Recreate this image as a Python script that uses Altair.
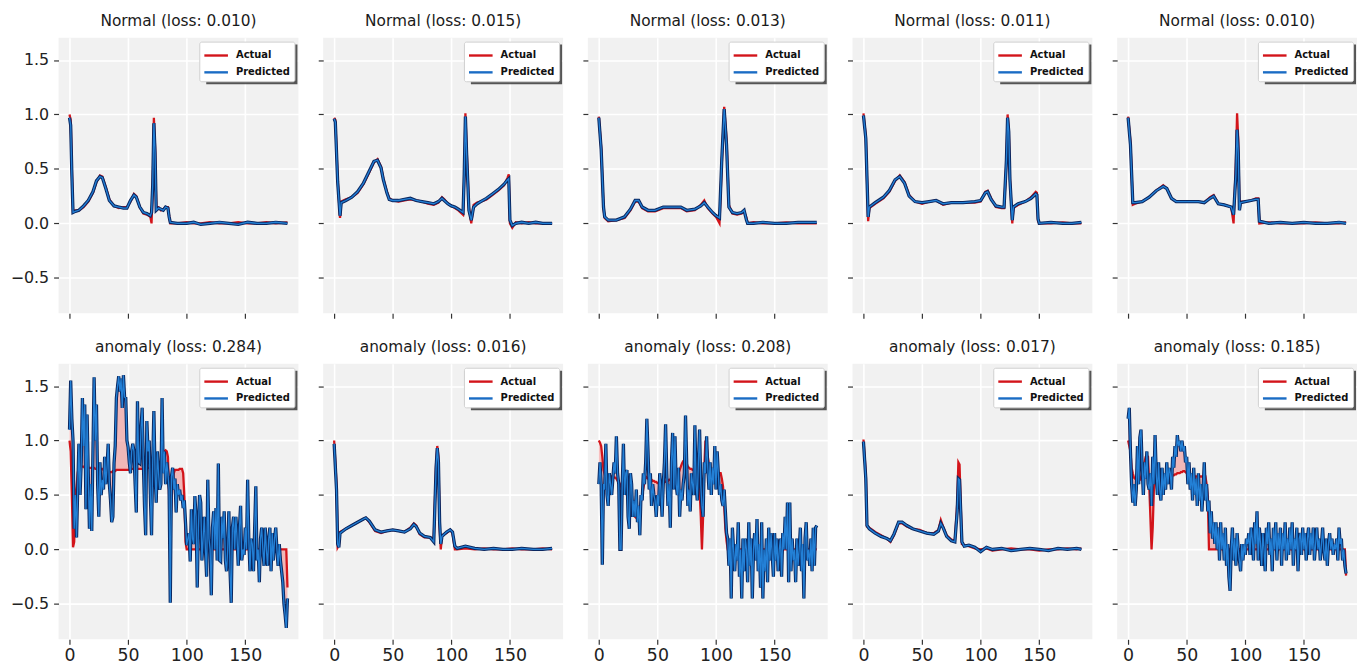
import altair as alt
import pandas as pd

# ---------------- data ----------------
TITLES_TOP = ["Normal (loss: 0.010)", "Normal (loss: 0.015)", "Normal (loss: 0.013)",
              "Normal (loss: 0.011)", "Normal (loss: 0.010)"]
TITLES_BOTTOM = ["anomaly (loss: 0.284)", "anomaly (loss: 0.016)", "anomaly (loss: 0.208)",
                 "anomaly (loss: 0.017)", "anomaly (loss: 0.185)"]
SERIES = ["Actual", "Predicted"]
X_TICKS = [0, 50, 100, 150]
Y_TICKS = [-0.5, 0.0, 0.5, 1.0, 1.5]

N1_X = [0, 1, 2, 3, 5, 8, 12, 16, 20, 23, 26, 28, 31, 34, 38, 42, 46, 49, 52, 55,
        57, 60, 63, 66, 69, 70, 71, 72, 73, 74, 76, 78, 80, 82, 84, 85, 86, 92, 100, 106,
        112, 120, 128, 136, 144, 152, 160, 168, 176, 186]
N1_ACT = [1.00, 0.95, 0.50, 0.11, 0.12, 0.12, 0.15, 0.20, 0.28, 0.38, 0.44, 0.43, 0.33, 0.22, 0.16, 0.14, 0.15, 0.15, 0.20, 0.27,
          0.25, 0.15, 0.09, 0.08, 0.06, 0.00, 0.30, 0.97, 0.70, 0.15, 0.15, 0.12, 0.13, 0.15, 0.15, 0.07, 0.00, 0.00, 0.01, 0.00,
          0.00, 0.01, 0.00, 0.00, 0.01, 0.00, 0.00, 0.01, 0.00, 0.01]
N1_PRED = [0.97, 0.90, 0.45, 0.10, 0.11, 0.12, 0.16, 0.21, 0.29, 0.39, 0.43, 0.42, 0.32, 0.21, 0.16, 0.15, 0.14, 0.14, 0.21, 0.26,
           0.24, 0.15, 0.10, 0.09, 0.07, 0.10, 0.35, 0.92, 0.65, 0.12, 0.14, 0.13, 0.12, 0.15, 0.14, 0.06, 0.01, 0.00, 0.00, 0.01,
           -0.01, 0.00, 0.01, 0.00, -0.01, 0.01, 0.00, 0.00, 0.01, 0.00]

N2_X = [0, 1, 3, 5, 6, 10, 15, 20, 25, 30, 34, 37, 40, 42, 45, 47, 50, 55, 60, 65,
        70, 75, 80, 85, 89, 92, 94, 97, 100, 103, 106, 110, 111, 112, 113, 115, 117, 119, 122, 125,
        130, 135, 140, 145, 148, 149, 150, 152, 155, 160, 166, 172, 178, 186]
N2_ACT = [0.97, 0.95, 0.40, 0.05, 0.20, 0.22, 0.24, 0.28, 0.36, 0.47, 0.56, 0.59, 0.52, 0.41, 0.29, 0.23, 0.21, 0.20, 0.21, 0.22,
          0.21, 0.20, 0.18, 0.17, 0.19, 0.24, 0.22, 0.18, 0.16, 0.14, 0.12, 0.08, 0.40, 1.01, 0.70, 0.15, 0.00, 0.17, 0.19, 0.20,
          0.22, 0.26, 0.30, 0.35, 0.42, 0.45, 0.00, -0.04, 0.01, 0.00, 0.01, 0.00, 0.00, 0.00]
N2_PRED = [0.96, 0.93, 0.38, 0.07, 0.19, 0.21, 0.24, 0.29, 0.37, 0.48, 0.57, 0.58, 0.51, 0.40, 0.28, 0.22, 0.21, 0.21, 0.22, 0.23,
           0.21, 0.20, 0.19, 0.18, 0.20, 0.23, 0.21, 0.18, 0.16, 0.15, 0.13, 0.10, 0.45, 0.98, 0.65, 0.12, 0.03, 0.15, 0.18, 0.20,
           0.23, 0.27, 0.31, 0.36, 0.40, 0.41, 0.03, -0.02, 0.00, 0.01, 0.00, 0.01, 0.00, 0.00]

N3_X = [0, 2, 4, 5, 8, 15, 22, 27, 31, 34, 37, 42, 48, 55, 62, 70, 75, 82, 87, 90,
        93, 97, 100, 103, 105, 107, 109, 111, 114, 118, 122, 124, 126, 127, 132, 140, 150, 160, 170, 186]
N3_ACT = [0.98, 0.70, 0.14, 0.05, 0.02, 0.03, 0.05, 0.12, 0.20, 0.20, 0.14, 0.11, 0.11, 0.14, 0.14, 0.14, 0.11, 0.12, 0.17, 0.21,
          0.14, 0.09, 0.06, 0.00, 0.56, 1.07, 0.77, 0.17, 0.09, 0.08, 0.09, 0.11, 0.05, 0.00, 0.01, 0.00, 0.00, 0.01, 0.00, 0.00]
N3_PRED = [0.97, 0.68, 0.15, 0.06, 0.03, 0.03, 0.06, 0.13, 0.21, 0.21, 0.15, 0.12, 0.12, 0.15, 0.15, 0.15, 0.12, 0.13, 0.16, 0.19,
           0.15, 0.10, 0.07, 0.05, 0.60, 1.05, 0.72, 0.15, 0.10, 0.09, 0.10, 0.12, 0.03, 0.00, 0.00, 0.01, 0.00, 0.00, 0.01, 0.01]

N4_X = [0, 2, 4, 5, 10, 17, 22, 27, 31, 35, 39, 44, 50, 56, 62, 68, 75, 85, 95, 100,
        104, 106, 109, 113, 118, 120, 122, 123, 124, 125, 127, 128, 132, 138, 143, 147, 148, 149, 150, 160,
        170, 178, 186]
N4_ACT = [1.01, 0.80, 0.02, 0.14, 0.18, 0.23, 0.29, 0.39, 0.44, 0.38, 0.26, 0.20, 0.18, 0.20, 0.21, 0.17, 0.19, 0.19, 0.19, 0.20,
          0.29, 0.30, 0.23, 0.15, 0.14, 0.14, 0.56, 1.00, 0.86, 0.41, 0.00, 0.14, 0.17, 0.20, 0.24, 0.29, 0.28, 0.02, 0.00, 0.00,
          0.01, 0.00, 0.00]
N4_PRED = [0.99, 0.78, 0.06, 0.15, 0.19, 0.24, 0.30, 0.40, 0.43, 0.37, 0.25, 0.20, 0.19, 0.20, 0.21, 0.18, 0.19, 0.19, 0.20, 0.21,
           0.28, 0.29, 0.22, 0.16, 0.15, 0.15, 0.58, 0.97, 0.84, 0.40, 0.03, 0.15, 0.18, 0.20, 0.23, 0.27, 0.26, 0.04, 0.00, 0.01,
           0.00, 0.00, 0.01]

N5_X = [0, 2, 4, 6, 12, 18, 24, 30, 33, 37, 41, 50, 60, 65, 70, 73, 77, 82, 88, 90,
        92, 93, 94, 95, 96, 100, 105, 109, 111, 112, 120, 130, 140, 150, 160, 170, 180, 186]
N5_ACT = [0.98, 0.75, 0.17, 0.18, 0.20, 0.24, 0.30, 0.35, 0.32, 0.23, 0.20, 0.20, 0.20, 0.19, 0.24, 0.26, 0.18, 0.17, 0.15, 0.00,
          0.56, 1.01, 0.77, 0.14, 0.20, 0.20, 0.21, 0.23, 0.23, 0.00, 0.01, 0.00, 0.00, 0.00, 0.01, 0.00, 0.00, 0.01]
N5_PRED = [0.97, 0.72, 0.19, 0.19, 0.20, 0.24, 0.30, 0.34, 0.32, 0.23, 0.20, 0.20, 0.20, 0.19, 0.23, 0.25, 0.18, 0.17, 0.15, 0.08,
           0.45, 0.86, 0.65, 0.12, 0.19, 0.20, 0.21, 0.22, 0.22, 0.02, 0.00, 0.01, 0.00, 0.01, 0.00, 0.00, 0.01, 0.00]

FULL_X = list(range(187))

A1_ACT = [1.00, 0.90, 0.50, 0.02, 0.07, 0.49, 0.58, 0.70, 0.76, 0.76,
          0.76, 0.76, 0.76, 0.75, 0.75, 0.75, 0.75, 0.75, 0.75, 0.75,
          0.75, 0.75, 0.74, 0.74, 0.74, 0.74, 0.74, 0.74, 0.74, 0.73,
          0.73, 0.72, 0.72, 0.72, 0.71, 0.71, 0.71, 0.72, 0.72, 0.72,
          0.73, 0.73, 0.73, 0.73, 0.73, 0.73, 0.73, 0.73, 0.73, 0.73,
          0.73, 0.73, 0.74, 0.74, 0.74, 0.74, 0.74, 0.74, 0.74, 0.74,
          0.74, 0.74, 0.74, 0.75, 0.75, 0.75, 0.75, 0.75, 0.75, 0.75,
          0.75, 0.75, 0.76, 0.76, 0.76, 0.76, 0.77, 0.77, 0.77, 0.80,
          0.85, 0.90, 0.91, 0.90, 0.85, 0.49, 0.25, 0.40, 0.64, 0.70,
          0.73, 0.73, 0.73, 0.73, 0.74, 0.74, 0.74, 0.70, 0.49, 0.07,
          0.00, 0.00, 0.00, 0.00, 0.00, 0.00, 0.00, 0.00, 0.00, 0.00,
          0.00, 0.00, 0.00, 0.00, 0.00, 0.00, 0.00, 0.00, 0.00, 0.00,
          0.00, 0.00, 0.00, 0.00, 0.00, 0.00, 0.00, 0.00, 0.00, 0.00,
          0.00, 0.00, 0.00, 0.00, 0.00, 0.00, 0.00, 0.00, 0.00, 0.00,
          0.00, 0.00, 0.00, 0.00, 0.00, 0.00, 0.00, 0.00, 0.00, 0.00,
          0.00, 0.00, 0.00, 0.00, 0.00, 0.00, 0.00, 0.00, 0.00, 0.00,
          0.00, 0.00, 0.00, 0.00, 0.00, 0.00, 0.00, 0.00, 0.00, 0.00,
          0.00, 0.00, 0.00, 0.00, 0.00, 0.00, 0.00, 0.00, 0.00, 0.00,
          0.00, 0.00, 0.00, 0.00, 0.00, 0.00, -0.35]
A1_PRED = [1.10, 1.55, 1.20, 1.00, 0.19, 0.50, 0.11, 0.55, 0.97, 0.50,
           0.80, 1.39, 0.95, 1.33, 0.37, 1.24, 0.70, 0.19, 0.60, 0.17,
           0.90, 1.58, 1.00, 1.33, 0.60, 0.30, 0.80, 0.50, 0.64, 0.55,
           0.85, 0.60, 0.75, 0.97, 0.60, 0.45, 0.25, 0.30, 0.79, 0.95,
           1.39, 1.50, 1.59, 1.45, 1.57, 1.30, 1.60, 1.40, 1.39, 1.00,
           0.94, 0.80, 0.70, 0.90, 0.97, 0.90, 0.60, 0.34, 1.36, 0.80,
           0.79, 1.10, 1.30, 0.80, 0.40, 0.13, 1.18, 0.90, 1.00, 0.50,
           0.13, 0.80, 1.27, 0.70, 0.43, 0.90, 0.70, 0.55, 0.60, 1.39,
           0.70, 0.90, 0.60, 0.80, 0.70, 0.55, -0.49, 0.67, 0.75, 0.55,
           0.65, 0.34, 0.60, 0.50, 0.55, 0.45, 0.50, 0.38, 0.45, 0.25,
           0.04, 0.10, 0.15, -0.11, 0.37, 0.10, 0.05, 0.49, 0.30, -0.35,
           0.20, 0.50, 0.43, -0.10, 0.10, 0.30, 0.00, -0.25, 0.64, 0.10,
           0.00, -0.42, 0.20, 0.35, 0.00, 0.38, -0.10, 0.79, -0.10, -0.11,
           0.30, 0.10, 0.35, -0.10, -0.20, 0.00, 0.35, -0.20, -0.49, 0.20,
           0.30, 0.00, 0.30, 0.10, -0.15, 0.20, 0.40, -0.10, 0.00, -0.05,
           0.20, 0.00, 0.64, 0.10, -0.20, 0.10, 0.05, -0.20, 0.20, 0.58,
           -0.10, 0.00, -0.30, 0.10, 0.20, 0.00, -0.15, 0.20, 0.00, -0.15,
           0.10, 0.20, -0.20, 0.15, -0.10, 0.10, 0.20, 0.00, -0.15, 0.05,
           -0.10, -0.20, -0.30, -0.50, -0.60, -0.72, -0.45]

A2_X = [0, 2, 3, 4, 5, 10, 15, 20, 25, 27, 30, 35, 40, 45, 50, 55, 60, 65, 68, 70,
        73, 77, 82, 85, 87, 88, 89, 90, 91, 92, 96, 99, 101, 103, 105, 112, 120, 128, 136, 144,
        152, 160, 170, 178, 186]
A2_ACT = [1.00, 0.60, 0.02, 0.04, 0.16, 0.19, 0.22, 0.25, 0.28, 0.29, 0.25, 0.17, 0.15, 0.17, 0.18, 0.17, 0.16, 0.20, 0.24, 0.22,
          0.14, 0.11, 0.11, 0.10, 0.79, 0.95, 0.85, 0.20, 0.00, 0.13, 0.15, 0.18, 0.15, 0.00, 0.00, 0.01, 0.00, 0.01, 0.00, 0.00,
          0.01, 0.00, 0.00, 0.01, 0.00]
A2_PRED = [0.97, 0.55, 0.05, 0.02, 0.15, 0.19, 0.22, 0.25, 0.28, 0.29, 0.26, 0.18, 0.16, 0.17, 0.18, 0.17, 0.16, 0.19, 0.23, 0.21,
           0.15, 0.12, 0.11, 0.07, 0.75, 0.93, 0.80, 0.25, 0.05, 0.12, 0.16, 0.18, 0.16, 0.03, 0.01, 0.03, 0.01, 0.00, 0.01, 0.00,
           0.00, 0.01, 0.00, 0.00, 0.01]

A3_ACT = [1.00, 0.98, 0.95, 0.85, 0.73, 0.69, 0.65, 0.66, 0.67, 0.67,
          0.67, 0.67, 0.67, 0.66, 0.66, 0.65, 0.63, 0.62, 0.60, 0.58,
          0.55, 0.54, 0.52, 0.51, 0.50, 0.47, 0.44, 0.40, 0.36, 0.33,
          0.31, 0.30, 0.29, 0.28, 0.33, 0.38, 0.44, 0.50, 0.56, 0.62,
          0.67, 0.66, 0.65, 0.65, 0.64, 0.64, 0.63, 0.63, 0.62, 0.62,
          0.61, 0.61, 0.61, 0.61, 0.61, 0.61, 0.62, 0.62, 0.63, 0.63,
          0.64, 0.64, 0.64, 0.64, 0.64, 0.64, 0.66, 0.68, 0.70, 0.73,
          0.76, 0.79, 0.81, 0.82, 0.81, 0.79, 0.76, 0.75, 0.74, 0.74,
          0.73, 0.73, 0.72, 0.72, 0.71, 0.70, 0.55, 0.31, 0.00, 0.30,
          0.75, 1.00, 0.95, 0.85, 0.78, 0.72, 0.71, 0.70, 0.70, 0.70,
          0.70, 0.70, 0.70, 0.70, 0.70, 0.65, 0.58, 0.40, 0.19, 0.08,
          0.00, 0.00, 0.00, 0.00, 0.00, 0.00, 0.00, 0.00, 0.00, 0.00,
          0.00, 0.00, 0.00, 0.00, 0.00, 0.00, 0.00, 0.00, 0.00, 0.00,
          0.00, 0.00, 0.00, 0.00, 0.00, 0.00, 0.00, 0.00, 0.00, 0.00,
          0.00, 0.00, 0.00, 0.00, 0.00, 0.00, 0.00, 0.00, 0.00, 0.00,
          0.00, 0.00, 0.00, 0.00, 0.00, 0.00, 0.00, 0.00, 0.00, 0.00,
          0.00, 0.00, 0.00, 0.00, 0.00, 0.00, 0.00, 0.00, 0.00, 0.00,
          0.00, 0.00, 0.00, 0.00, 0.00, 0.00, 0.00, 0.00, 0.00, 0.00,
          0.00, 0.00, 0.00, 0.00, 0.00, 0.00, 0.00]
A3_PRED = [0.60, 0.80, 0.60, -0.14, 0.60, 0.55, 0.97, 0.50, 0.40, 0.70,
           0.60, 0.50, 0.65, 0.80, 0.70, 1.04, 0.70, 0.60, 0.00, 0.00,
           0.60, 0.97, 0.50, 0.70, 0.73, 0.30, 0.19, 0.70, 0.60, 0.30,
           0.45, 0.30, 0.55, 0.25, 0.40, 0.13, 0.50, 0.45, 0.70, 0.60,
           0.80, 1.20, 0.90, 0.55, 0.70, 0.40, 0.60, 0.50, 0.45, 0.30,
           0.50, 0.40, 0.70, 0.55, 0.30, 0.60, 0.80, 1.15, 0.70, 0.40,
           0.60, 0.20, 0.80, 1.07, 0.55, 1.04, 0.60, 0.50, 0.75, 0.30,
           0.55, 0.45, 0.60, 0.70, 1.23, 0.80, 0.40, 0.55, 0.35, 0.70,
           0.60, 0.50, 1.14, 0.60, 0.45, 0.80, 1.10, 0.60, 0.40, 0.30,
           0.80, 0.70, 1.04, 0.75, 0.55, 0.80, 0.50, 0.75, 0.60, 0.95,
           0.55, 0.90, 0.70, 0.50, 0.60, 0.45, 0.40, 0.55, 0.35, 0.15,
           0.10, -0.15, 0.10, -0.45, 0.20, 0.00, -0.20, 0.05, -0.10, 0.25,
           -0.25, 0.00, -0.45, 0.10, -0.20, 0.10, 0.00, -0.30, 0.25, -0.15,
           0.10, -0.45, 0.00, 0.15, -0.10, 0.28, -0.20, 0.05, -0.35, 0.25,
           -0.45, 0.00, -0.20, 0.10, -0.30, 0.20, -0.10, 0.15, -0.05, -0.25,
           0.15, -0.10, 0.10, -0.20, 0.00, 0.10, -0.25, 0.15, 0.00, 0.30,
           0.00, 0.43, -0.30, 0.43, -0.20, 0.10, -0.10, 0.00, -0.30, 0.10,
           -0.15, 0.00, 0.20, -0.20, 0.05, -0.45, 0.10, 0.25, -0.10, 0.00,
           -0.15, 0.10, -0.20, 0.20, -0.15, 0.20, 0.22]

A4_X = [0, 2, 3, 5, 10, 15, 20, 23, 26, 30, 33, 37, 42, 48, 54, 60, 64, 66, 68, 71,
        75, 78, 80, 81, 82, 83, 84, 86, 90, 95, 100, 105, 110, 118, 126, 134, 142, 150, 158, 166,
        174, 182, 186]
A4_ACT = [1.01, 0.70, 0.21, 0.20, 0.16, 0.13, 0.10, 0.07, 0.13, 0.24, 0.24, 0.21, 0.19, 0.18, 0.15, 0.15, 0.18, 0.27, 0.21, 0.13,
          0.09, 0.08, 0.42, 0.80, 0.78, 0.42, 0.05, 0.04, 0.03, 0.01, 0.00, 0.01, -0.01, 0.00, 0.01, 0.00, 0.00, -0.01, 0.00, 0.00,
          0.01, 0.00, 0.01]
A4_PRED = [0.99, 0.65, 0.22, 0.19, 0.15, 0.12, 0.10, 0.08, 0.14, 0.25, 0.25, 0.22, 0.19, 0.17, 0.15, 0.14, 0.17, 0.24, 0.20, 0.12,
           0.08, 0.07, 0.35, 0.65, 0.64, 0.35, 0.07, 0.03, 0.04, 0.02, -0.02, 0.02, 0.00, 0.01, -0.01, 0.00, 0.01, 0.00, -0.01, 0.01,
           0.00, 0.01, 0.00]

A5_ACT = [1.00, 0.95, 0.90, 0.75, 0.70, 0.66, 0.65, 0.64, 0.64, 0.64,
          0.64, 0.66, 0.70, 0.73, 0.80, 0.85, 0.86, 0.85, 0.60, 0.30,
          0.00, 0.20, 0.55, 0.62, 0.64, 0.64, 0.65, 0.65, 0.65, 0.65,
          0.65, 0.65, 0.65, 0.66, 0.66, 0.66, 0.67, 0.67, 0.68, 0.68,
          0.69, 0.69, 0.70, 0.70, 0.70, 0.71, 0.71, 0.72, 0.72, 0.71,
          0.70, 0.70, 0.69, 0.69, 0.68, 0.68, 0.67, 0.67, 0.67, 0.67,
          0.67, 0.67, 0.67, 0.67, 0.67, 0.67, 0.67, 0.60, 0.49, 0.00,
          0.00, 0.00, 0.00, 0.00, 0.00, 0.00, 0.00, 0.00, 0.00, 0.00,
          0.00, 0.00, 0.00, 0.00, 0.00, 0.00, 0.00, 0.00, 0.00, 0.00,
          0.00, 0.00, 0.00, 0.00, 0.00, 0.00, 0.00, 0.00, 0.00, 0.00,
          0.00, 0.00, 0.00, 0.00, 0.00, 0.00, 0.00, 0.00, 0.00, 0.00,
          0.00, 0.00, 0.00, 0.00, 0.00, 0.00, 0.00, 0.00, 0.00, 0.00,
          0.00, 0.00, 0.00, 0.00, 0.00, 0.00, 0.00, 0.00, 0.00, 0.00,
          0.00, 0.00, 0.00, 0.00, 0.00, 0.00, 0.00, 0.00, 0.00, 0.00,
          0.00, 0.00, 0.00, 0.00, 0.00, 0.00, 0.00, 0.00, 0.00, 0.00,
          0.00, 0.00, 0.00, 0.00, 0.00, 0.00, 0.00, 0.00, 0.00, 0.00,
          0.00, 0.00, 0.00, 0.00, 0.00, 0.00, 0.00, 0.00, 0.00, 0.00,
          0.00, 0.00, 0.00, 0.00, 0.00, 0.00, 0.00, 0.00, 0.00, 0.00,
          0.00, 0.00, 0.00, 0.00, 0.00, 0.00, -0.24]
A5_PRED = [1.20, 1.30, 0.90, 0.60, 0.43, 0.60, 0.40, 0.55, 0.95, 0.60,
           1.03, 1.10, 0.75, 0.50, 0.80, 0.65, 0.90, 0.60, 0.55, 0.70,
           0.40, 0.85, 0.60, 1.05, 0.70, 0.50, 0.80, 0.55, 0.45, 0.75,
           0.50, 0.70, 0.55, 0.80, 0.60, 0.75, 0.70, 0.55, 0.85, 0.75,
           0.95, 0.85, 1.05, 0.95, 1.00, 0.90, 1.00, 0.90, 0.95, 0.80,
           0.85, 0.60, 0.80, 0.55, 0.70, 0.45, 0.75, 0.50, 0.65, 0.40,
           0.70, 0.45, 0.60, 0.35, 0.55, 0.80, 0.45, 0.60, 0.35, 0.45,
           0.15, 0.35, 0.10, 0.25, 0.05, 0.25, 0.00, 0.20, -0.10, 0.25,
           0.00, 0.15, -0.10, 0.20, -0.15, 0.05, -0.25, -0.38, 0.00, 0.20,
           -0.10, 0.10, -0.15, 0.15, 0.00, -0.10, -0.20, 0.05, -0.10, 0.05,
           -0.05, 0.10, 0.05, 0.15, -0.05, 0.20, 0.10, -0.10, 0.25, 0.05,
           0.35, -0.10, 0.20, 0.05, -0.15, 0.15, 0.00, -0.20, 0.20, 0.05,
           0.25, -0.05, 0.10, -0.20, 0.20, 0.00, 0.25, -0.10, 0.15, 0.00,
           0.20, -0.15, 0.15, 0.00, 0.25, -0.10, 0.10, -0.05, 0.20, 0.00,
           0.25, -0.15, 0.10, 0.00, 0.20, -0.20, 0.10, 0.15, -0.05, 0.20,
           0.00, 0.15, -0.10, 0.10, 0.20, -0.05, 0.15, 0.00, 0.20, -0.10,
           0.05, 0.20, 0.00, 0.10, -0.10, 0.05, 0.20, 0.00, -0.10, 0.10,
           -0.15, 0.05, 0.15, 0.00, 0.10, -0.05, 0.05, 0.00, 0.10, -0.10,
           0.20, 0.05, 0.10, -0.10, 0.00, -0.15, -0.22]

# ---------------- styling ----------------
RED = "#d3141a"
BLUE = "#1a6cc4"
CORE = "#2380d6"
NAVY = "#0a2760"
FILL = "#f08080"
BG = "#f1f1f1"
W, H = 242, 278
X_DOMAIN = [-9.35, 195.35]
Y_DOMAIN = [-0.825, 1.705]
FONT = "DejaVu Sans"


def panel(xs, act, pred, title, first_col, bottom_row):
    df = pd.DataFrame({"x": xs, "actual": act, "predicted": pred})
    xs_ = alt.Scale(domain=X_DOMAIN, nice=False, zero=False)
    ys_ = alt.Scale(domain=Y_DOMAIN, nice=False, zero=False)
    xax = alt.Axis(values=X_TICKS, labels=bottom_row, title=None, format="d",
                   labelFontSize=17.5, labelPadding=2)
    yax = alt.Axis(values=Y_TICKS, labels=first_col, title=None, format=".1f",
                   labelFontSize=16, labelPadding=5)
    cscale = alt.Scale(domain=SERIES, range=[RED, BLUE])
    leg = alt.Legend(title=None, orient="top-right", offset=4, zindex=1)
    base = alt.Chart(df)
    X = alt.X("x:Q", scale=xs_, axis=xax)
    area = base.mark_area(color=FILL, opacity=0.5).encode(
        x=X, y=alt.Y("actual:Q", scale=ys_, axis=yax), y2="predicted:Q")
    a_line = base.transform_calculate(series="'Actual'").mark_line(strokeWidth=2.3).encode(
        x="x:Q", y="actual:Q", color=alt.Color("series:N", scale=cscale, legend=leg))
    p_out = base.mark_line(color=NAVY, strokeWidth=3.3).encode(x="x:Q", y="predicted:Q")
    p_core = base.mark_line(color=CORE, strokeWidth=1.3).encode(x="x:Q", y="predicted:Q")
    p_key = base.transform_calculate(series="'Predicted'").mark_line(strokeWidth=0, opacity=0).encode(
        x="x:Q", y="predicted:Q", color=alt.Color("series:N", scale=cscale, legend=leg))
    shadow = alt.Chart(pd.DataFrame({"s": [0]})).mark_rect(color="#3a3a3a", opacity=0.85).encode(
        x=alt.value(W - 93), x2=alt.value(W - 1), y=alt.value(7), y2=alt.value(47))
    return alt.layer(area, a_line, p_out, p_core, p_key, shadow).properties(
        width=W, height=H, title=alt.Title(title, frame="group"))


top_data = [(N1_X, N1_ACT, N1_PRED), (N2_X, N2_ACT, N2_PRED), (N3_X, N3_ACT, N3_PRED),
            (N4_X, N4_ACT, N4_PRED), (N5_X, N5_ACT, N5_PRED)]
bot_data = [(FULL_X, A1_ACT, A1_PRED), (A2_X, A2_ACT, A2_PRED), (FULL_X, A3_ACT, A3_PRED),
            (A4_X, A4_ACT, A4_PRED), (FULL_X, A5_ACT, A5_PRED)]

top = alt.hconcat(*[panel(d[0], d[1], d[2], t, i == 0, False)
                    for i, (d, t) in enumerate(zip(top_data, TITLES_TOP))], spacing=19)
bot = alt.hconcat(*[panel(d[0], d[1], d[2], t, i == 0, True)
                    for i, (d, t) in enumerate(zip(bot_data, TITLES_BOTTOM))], spacing=19)
top = top.resolve_scale(color="independent").resolve_legend(color="independent")
bot = bot.resolve_scale(color="independent").resolve_legend(color="independent")

chart = alt.vconcat(top, bot, spacing=21).resolve_scale(color="independent").resolve_legend(
    color="independent").properties(
    padding={"left": 2, "top": 3, "right": 2, "bottom": 0}
).configure_view(fill=BG, stroke=None).configure_axis(
    domain=False, grid=True, gridColor="white", gridWidth=1.6, tickColor="#333333",
    tickSize=5, tickWidth=1.2, labelFont=FONT, labelColor="#222222"
).configure_title(
    font=FONT, fontSize=15.5, fontWeight="normal", color="#1a1a1a", offset=8
).configure_legend(
    fillColor="white", strokeColor="#cfcfcf", padding=4, cornerRadius=2,
    labelFont=FONT, labelFontSize=10, labelFontWeight="bold", labelColor="#111111",
    symbolType="M-1.4,0H1.4", symbolSize=289, symbolStrokeWidth=2.4, symbolOffset=3,
    labelOffset=10, rowPadding=2
)

chart.save("out.html", embed_options={"renderer": "svg", "actions": False})
